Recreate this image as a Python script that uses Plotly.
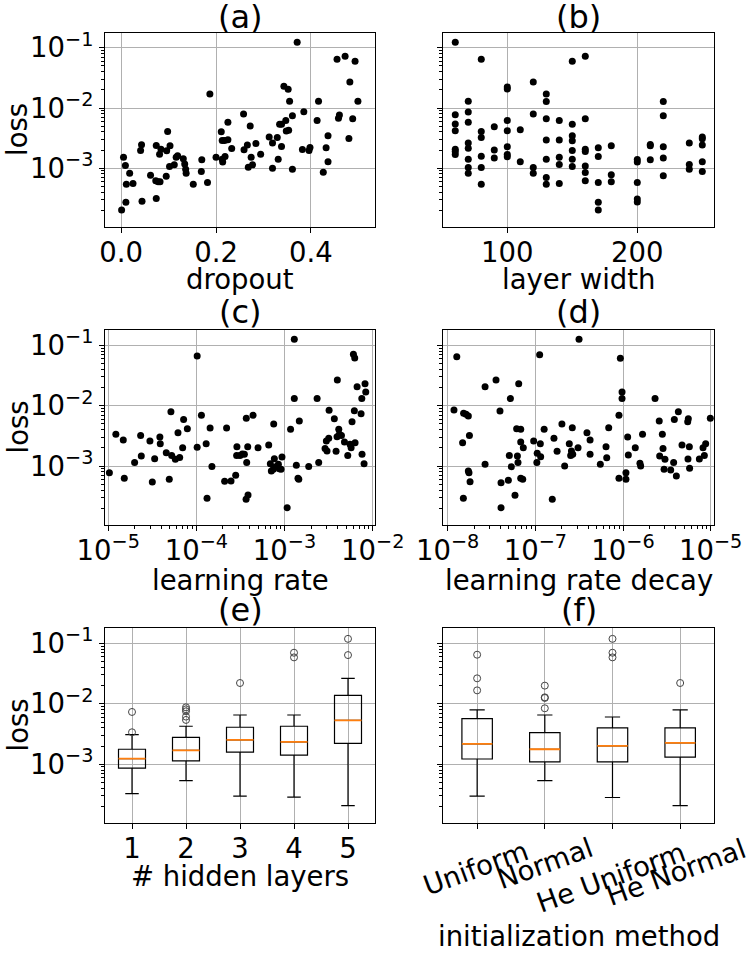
import plotly.graph_objects as go

# ---------------- data ----------------
# (a) dropout vs loss
dropout = [0.371, 0.187, 0.001, 0.005, 0.009, 0.018, 0.011, 0.025, 0.010, 0.041,
           0.043, 0.044, 0.062, 0.074, 0.081, 0.084, 0.073, 0.078, 0.082, 0.074,
           0.095, 0.096, 0.098, 0.103, 0.102, 0.112, 0.116, 0.119, 0.131, 0.134,
           0.136, 0.137, 0.152, 0.170, 0.169, 0.182, 0.200, 0.211, 0.213, 0.218,
           0.225, 0.225, 0.233, 0.213, 0.214, 0.219, 0.258, 0.259, 0.266, 0.272,
           0.274, 0.277, 0.268, 0.284, 0.294, 0.312, 0.319, 0.329, 0.319, 0.331,
           0.338, 0.334, 0.338, 0.347, 0.343, 0.352, 0.355, 0.348, 0.353, 0.361,
           0.361, 0.385, 0.382, 0.398, 0.396, 0.416, 0.413, 0.426, 0.432, 0.436,
           0.436, 0.455, 0.472, 0.493, 0.482, 0.499, 0.458, 0.460, 0.488, 0.480]
loss_dropout = [0.124, 0.0171, 0.000202, 0.00152, 0.00111, 0.000826, 0.000541, 0.000555, 0.000271, 0.00197,
                0.00245, 0.000282, 0.000764, 0.00239, 0.00171, 0.00207, 0.000615, 0.000592, 0.000592, 0.000312,
                0.000736, 0.00195, 0.00408, 0.00236, 0.00107, 0.00114, 0.00152, 0.00161, 0.00143, 0.00117,
                0.000962, 0.000826, 0.000541, 0.00138, 0.000879, 0.000577, 0.00152, 0.00404, 0.00289, 0.00289,
                0.00577, 0.00296, 0.00213, 0.00141, 0.00126, 0.00156, 0.00794, 0.00202, 0.00242, 0.00501,
                0.00152, 0.00114, 0.00104, 0.00258, 0.00171, 0.00329, 0.00261, 0.00324, 0.00100, 0.00141,
                0.00230, 0.00535, 0.00535, 0.00622, 0.0230, 0.0205, 0.0129, 0.00414, 0.00425, 0.00745,
                0.000962, 0.00869, 0.00205, 0.00221, 0.00197, 0.0129, 0.00622, 0.000857, 0.00218, 0.00346,
                0.00128, 0.0647, 0.0726, 0.0600, 0.0271, 0.0129, 0.00673, 0.00764, 0.00664, 0.00312]

# (b) layer width vs loss
layer_width = [60] * 7 + [70] * 8 + [80] * 6 + [90] * 3 + [100] * 7 + [110] * 2 + [120] * 4 + \
              [130] * 7 + [140] * 5 + [150] * 7 + [160] * 7 + [170] * 5 + [180] * 3 + [200] * 5 + \
              [210] * 3 + [220] * 5 + [240] * 3 + [250] * 5
loss_width = [0.124, 0.00774, 0.00541, 0.00419, 0.00207, 0.0019, 0.00169,
              0.0129, 0.00857, 0.00577, 0.00261, 0.00215, 0.00141, 0.00103, 0.000826,
              0.0647, 0.00408, 0.00324, 0.00158, 0.00103, 0.000541,
              0.00489, 0.0020, 0.00147,
              0.0224, 0.0207, 0.00622, 0.00419, 0.00227, 0.00169, 0.00155,
              0.00436, 0.00128,
              0.0271, 0.00794, 0.00103, 0.000826,
              0.0171, 0.0128, 0.00664, 0.00293, 0.00141, 0.000698, 0.000541,
              0.00622, 0.00293, 0.00152, 0.00115, 0.000555,
              0.0600, 0.00535, 0.00346, 0.00286, 0.00197, 0.00141, 0.00107,
              0.0726, 0.00664, 0.00207, 0.0019, 0.00109, 0.000847, 0.000615,
              0.00218, 0.00156, 0.000577, 0.000271, 0.000202,
              0.00236, 0.000774, 0.000592,
              0.00139, 0.00126, 0.000577, 0.000308, 0.000275,
              0.00248, 0.00236, 0.00138,
              0.0128, 0.00745, 0.00227, 0.00147, 0.000745,
              0.00261, 0.00115, 0.000962,
              0.00329, 0.00308, 0.00242, 0.00128, 0.000879]

# (c) learning rate vs loss
learning_rate = [1.03e-5, 1.22e-5, 1.48e-5, 1.52e-5, 1.99e-5, 2.33e-5, 2.37e-5, 2.97e-5, 3.16e-5, 3.36e-5,
                 3.85e-5, 3.89e-5, 4.55e-5, 4.92e-5, 5.14e-5, 5.24e-5, 5.77e-5, 6.18e-5, 6.46e-5, 6.98e-5,
                 7.16e-5, 7.89e-5, 1.02e-4, 1.02e-4, 1.14e-4, 1.29e-4, 1.32e-4, 1.43e-4, 1.50e-4, 2.09e-4,
                 2.20e-4, 2.47e-4, 2.79e-4, 2.88e-4, 2.86e-4, 3.12e-4, 3.32e-4, 3.50e-4, 3.68e-4, 3.72e-4,
                 3.82e-4, 3.66e-4, 3.85e-4, 4.39e-4, 5.00e-4, 6.61e-4, 7.53e-4, 6.90e-4, 7.08e-4, 7.66e-4,
                 7.46e-4, 7.93e-4, 8.51e-4, 8.73e-4, 9.35e-4, 9.12e-4, 1.07e-3, 1.17e-3, 1.29e-3, 1.29e-3,
                 1.36e-3, 1.42e-3, 1.45e-3, 1.47e-3, 1.88e-3, 2.34e-3, 2.44e-3, 2.88e-3, 2.98e-3, 3.03e-3,
                 3.17e-3, 3.20e-3, 3.67e-3, 3.84e-3, 3.94e-3, 3.97e-3, 4.12e-3, 4.19e-3, 4.42e-3, 4.78e-3,
                 5.21e-3, 5.53e-3, 5.69e-3, 5.83e-3, 6.04e-3, 6.25e-3, 6.19e-3, 6.31e-3, 6.65e-3, 7.38e-3,
                 7.52e-3, 7.57e-3, 7.98e-3, 8.18e-3, 8.34e-3]
loss_lr = [7.76e-4, 3.35e-3, 2.70e-3, 6.25e-4, 1.14e-3, 3.22e-3, 1.47e-3, 2.59e-3, 5.43e-4, 1.32e-3,
           3.03e-3, 2.34e-3, 1.66e-3, 6.01e-4, 7.96e-3, 1.50e-3, 1.29e-3, 3.56e-3, 1.39e-3, 2.01e-3,
           5.93e-3, 4.16e-3, 6.65e-2, 2.04e-3, 6.92e-3, 2.34e-3, 2.91e-4, 4.27e-3, 9.86e-4, 5.57e-4,
           4.27e-3, 5.64e-4, 7.00e-4, 2.09e-3, 1.50e-3, 1.50e-3, 1.58e-3, 1.56e-3, 6.17e-3, 1.14e-3,
           2.09e-3, 2.81e-4, 3.30e-4, 6.92e-3, 2.01e-3, 2.23e-3, 4.97e-3, 1.09e-3, 8.26e-4, 1.32e-3,
           8.81e-4, 9.75e-4, 1.07e-3, 9.04e-4, 1.41e-3, 8.81e-4, 2.04e-4, 4.06e-3, 1.26e-1, 1.31e-2,
           1.03e-3, 6.25e-4, 6.01e-4, 5.57e-3, 9.86e-4, 1.31e-2, 1.14e-3, 1.96e-3, 2.59e-3, 1.77e-3,
           2.88e-3, 8.38e-3, 6.10e-3, 1.75e-3, 3.06e-3, 2.66e-2, 4.06e-3, 3.35e-3, 3.22e-3, 2.50e-3,
           1.50e-3, 2.29e-3, 2.01e-3, 5.43e-3, 7.10e-2, 6.17e-2, 8.26e-3, 2.44e-3, 2.07e-2, 7.36e-3,
           1.31e-2, 1.56e-3, 1.09e-3, 2.32e-2, 1.69e-2]

# (d) learning rate decay vs loss
lr_decay = [1.18e-8, 1.27e-8, 1.48e-8, 1.52e-8, 1.51e-8, 1.62e-8, 1.72e-8, 1.77e-8, 1.72e-8, 1.75e-8,
            1.80e-8, 2.67e-8, 2.67e-8, 3.56e-8, 3.95e-8, 4.06e-8, 4.06e-8, 4.92e-8, 5.05e-8, 5.19e-8,
            5.32e-8, 5.86e-8, 6.12e-8, 6.24e-8, 6.34e-8, 6.46e-8, 6.81e-8, 6.81e-8, 6.81e-8, 7.18e-8,
            7.29e-8, 9.57e-8, 1.04e-7, 1.05e-7, 1.12e-7, 1.14e-7, 1.15e-7, 1.26e-7, 1.56e-7, 1.63e-7,
            1.77e-7, 2.01e-7, 2.16e-7, 2.44e-7, 2.53e-7, 2.58e-7, 2.64e-7, 2.67e-7, 3.07e-7, 3.15e-7,
            3.88e-7, 4.21e-7, 4.21e-7, 5.51e-7, 6.40e-7, 6.52e-7, 6.87e-7, 8.99e-7, 8.99e-7, 9.33e-7,
            9.75e-7, 9.75e-7, 1.08e-6, 1.08e-6, 1.13e-6, 1.15e-6, 1.38e-6, 1.56e-6, 1.59e-6, 1.67e-6,
            2.32e-6, 2.59e-6, 2.62e-6, 2.81e-6, 2.86e-6, 3.01e-6, 2.94e-6, 3.50e-6, 3.78e-6, 3.85e-6,
            4.06e-6, 4.28e-6, 4.71e-6, 5.47e-6, 5.56e-6, 5.71e-6, 5.51e-6, 5.75e-6, 7.43e-6, 8.18e-6,
            8.47e-6, 8.77e-6, 9.91e-6]
loss_decay = [8.47e-3, 6.49e-2, 2.44e-3, 7.46e-3, 2.91e-4, 7.18e-3, 6.75e-3, 3.22e-3, 8.26e-4, 7.76e-4,
              5.50e-4, 2.07e-2, 1.07e-3, 2.66e-2, 8.17e-3, 5.30e-4, 2.04e-4, 5.78e-4, 1.50e-3, 1.31e-2,
              9.75e-4, 3.27e-4, 4.16e-3, 1.47e-3, 1.14e-3, 2.32e-2, 4.06e-3, 2.50e-3, 6.25e-4, 6.01e-4,
              2.01e-3, 2.59e-3, 1.14e-3, 1.62e-3, 7.00e-2, 2.34e-3, 1.43e-3, 4.06e-3, 2.81e-4, 2.88e-3,
              1.75e-3, 4.97e-3, 1.00e-3, 2.34e-3, 1.50e-3, 1.77e-3, 4.32e-3, 1.56e-3, 2.01e-3, 1.26e-1,
              3.56e-3, 2.70e-3, 1.56e-3, 1.07e-3, 2.09e-3, 1.37e-3, 4.32e-3, 6.25e-4, 6.92e-3, 6.10e-2,
              1.69e-2, 1.31e-2, 7.76e-4, 6.01e-4, 3.03e-3, 1.52e-3, 2.01e-3, 1.11e-3, 1.00e-3, 3.35e-3,
              1.31e-2, 5.57e-3, 1.47e-3, 3.35e-3, 1.96e-3, 1.29e-3, 8.81e-4, 8.59e-4, 1.14e-3, 5.93e-3,
              6.82e-4, 7.96e-3, 2.23e-3, 5.43e-3, 6.10e-3, 2.09e-3, 1.31e-3, 9.14e-4, 1.31e-3, 2.01e-3,
              1.50e-3, 2.34e-3, 6.17e-3]

# (e) box statistics by number of hidden layers
hidden_layers = [1, 2, 3, 4, 5]
hl_lower = [3.27e-4, 5.37e-4, 2.96e-4, 2.85e-4, 2.07e-4]
hl_q1 = [8.59e-4, 1.14e-3, 1.58e-3, 1.41e-3, 2.22e-3]
hl_median = [1.24e-3, 1.70e-3, 2.52e-3, 2.34e-3, 5.33e-3]
hl_q3 = [1.77e-3, 2.79e-3, 4.09e-3, 4.25e-3, 1.38e-2]
hl_upper = [3.09e-3, 4.25e-3, 6.53e-3, 6.53e-3, 2.64e-2]
hl_outliers = [[7.33e-3, 3.38e-3], [8.75e-3, 8.11e-3, 7.52e-3, 6.14e-3, 5.41e-3],
               [2.21e-2], [7.01e-2, 5.87e-2], [1.19e-1, 6.41e-2]]

# (f) box statistics by initialization method
init_methods = ["Uniform", "Normal", "He Uniform", "He Normal"]
im_lower = [2.96e-4, 5.37e-4, 2.81e-4, 2.07e-4]
im_q1 = [1.22e-3, 1.09e-3, 1.09e-3, 1.31e-3]
im_median = [2.17e-3, 1.77e-3, 2.01e-3, 2.25e-3]
im_q3 = [5.69e-3, 3.33e-3, 3.99e-3, 3.99e-3]
im_upper = [7.91e-3, 6.53e-3, 6.05e-3, 7.91e-3]
im_outliers = [[6.50e-2, 2.64e-2, 1.67e-2], [2.0e-2, 1.28e-2, 1.25e-2, 8.43e-3],
               [1.19e-1, 7.01e-2, 5.87e-2], [2.21e-2]]

# ---------------- figure ----------------
W, H = 750, 954
FONT = "DejaVu Sans"
FS = 27.5
FT = 32


def px(x):
    return x / W


def py(y):
    return 1 - y / H


fig = go.Figure()

MK = dict(color="black", size=7)
fig.add_trace(go.Scatter(x=dropout, y=loss_dropout, mode="markers", marker=MK, xaxis="x", yaxis="y"))
fig.add_trace(go.Scatter(x=layer_width, y=loss_width, mode="markers", marker=MK, xaxis="x2", yaxis="y2"))
fig.add_trace(go.Scatter(x=learning_rate, y=loss_lr, mode="markers", marker=MK, xaxis="x3", yaxis="y3"))
fig.add_trace(go.Scatter(x=lr_decay, y=loss_decay, mode="markers", marker=MK, xaxis="x4", yaxis="y4"))


def add_boxes(positions, lo, q1, med, q3, hi, outl, width, xa, ya):
    mx, my, ox, oy = [], [], [], []
    for i, p in enumerate(positions):
        fig.add_trace(go.Box(x=[p], lowerfence=[lo[i]], q1=[q1[i]], median=[med[i]], q3=[q3[i]],
                             upperfence=[hi[i]], width=width, whiskerwidth=0.5,
                             line=dict(color="black", width=1.2), fillcolor="rgba(0,0,0,0)",
                             boxpoints=False, xaxis=xa, yaxis=ya))
        mx += [p - width / 2, p + width / 2, None]
        my += [med[i], med[i], None]
        for v in outl[i]:
            ox.append(p)
            oy.append(v)
    fig.add_trace(go.Scatter(x=mx, y=my, mode="lines", line=dict(color="#ff7f0e", width=1.8),
                             xaxis=xa, yaxis=ya))
    fig.add_trace(go.Scatter(x=ox, y=oy, mode="markers",
                             marker=dict(symbol="circle-open", size=7, color="#444444", line=dict(width=1)),
                             xaxis=xa, yaxis=ya))


add_boxes(hidden_layers, hl_lower, hl_q1, hl_median, hl_q3, hl_upper, hl_outliers, 0.5, "x5", "y5")
im_pos = [1, 2, 3, 4]
add_boxes(im_pos, im_lower, im_q1, im_median, im_q3, im_upper, im_outliers, 0.45, "x6", "y6")

# axes
colx = [[105 / W, 375 / W], [443.3 / W, 714 / W]]
rowy = [[py(227), py(32.5)], [py(525), py(330)], [py(823.3), py(628)]]
YR = [-3.978, -0.745]

ymajor = [1e-3, 1e-2, 1e-1]
ytext = ["10<sup>−3</sup>", "10<sup>−2</sup>", "10<sup>−1</sup>"]
yminor = [k * 10.0 ** n for n in (-4, -3, -2, -1) for k in range(2, 10)]

base = dict(showline=True, mirror=True, linecolor="black", linewidth=1,
            ticks="outside", ticklen=5, tickwidth=1, tickcolor="black",
            showgrid=True, gridcolor="#b0b0b0", gridwidth=0.8, zeroline=False,
            automargin=False,
            tickfont=dict(family=FONT, size=FS, color="black"))
xbase = dict(base, ticklabelstandoff=-4)


def yaxis(row, col, anchor):
    d = dict(base, type="log", range=YR, domain=rowy[row], anchor=anchor,
             tickmode="array", tickvals=ymajor, ticktext=ytext,
             showticklabels=(col == 0),
             minor=dict(tickmode="array", tickvals=yminor, ticks="outside", ticklen=3,
                        tickwidth=0.7, tickcolor="black", showgrid=False))
    return d


def logminor(lo, hi):
    return [k * 10.0 ** n for n in range(lo, hi) for k in range(2, 10)]


layout = dict(
    template="none",
    width=W, height=H, margin=dict(l=0, r=0, t=0, b=0, pad=0), autosize=False,
    paper_bgcolor="white", plot_bgcolor="white", showlegend=False,
    font=dict(family=FONT, size=FS, color="black"),
    xaxis=dict(xbase, domain=colx[0], anchor="y", range=[-0.034, 0.535],
               tickmode="array", tickvals=[0, 0.2, 0.4], ticktext=["0.0", "0.2", "0.4"]),
    yaxis=yaxis(0, 0, "x"),
    xaxis2=dict(xbase, domain=colx[1], anchor="y2", range=[50.8, 259],
                tickmode="array", tickvals=[100, 200], ticktext=["100", "200"]),
    yaxis2=yaxis(0, 1, "x2"),
    xaxis3=dict(xbase, domain=colx[0], anchor="y3", type="log", range=[-5.037, -1.974],
                tickmode="array", tickvals=[1e-5, 1e-4, 1e-3, 1e-2],
                ticktext=["10<sup>−5</sup>", "10<sup>−4</sup>", "10<sup>−3</sup>", "10<sup>−2</sup>"],
                minor=dict(tickmode="array", tickvals=logminor(-5, -2), ticks="outside", ticklen=3,
                           tickwidth=0.7, tickcolor="black", showgrid=False)),
    yaxis3=yaxis(1, 0, "x3"),
    xaxis4=dict(xbase, domain=colx[1], anchor="y4", type="log", range=[-8.05, -4.962],
                tickmode="array", tickvals=[1e-8, 1e-7, 1e-6, 1e-5],
                ticktext=["10<sup>−8</sup>", "10<sup>−7</sup>", "10<sup>−6</sup>", "10<sup>−5</sup>"],
                minor=dict(tickmode="array", tickvals=logminor(-8, -5), ticks="outside", ticklen=3,
                           tickwidth=0.7, tickcolor="black", showgrid=False)),
    yaxis4=yaxis(1, 1, "x4"),
    xaxis5=dict(xbase, domain=colx[0], anchor="y5", range=[0.5, 5.5],
                tickmode="array", tickvals=hidden_layers, ticktext=[str(v) for v in hidden_layers]),
    yaxis5=yaxis(2, 0, "x5"),
    xaxis6=dict(xbase, domain=colx[1], anchor="y6", range=[0.5, 4.5],
                tickmode="array", tickvals=im_pos, showticklabels=False),
    yaxis6=yaxis(2, 1, "x6"),
)
fig.update_layout(**layout)

ann = []


def text(t, x, y, angle=0, size=FS):
    ann.append(dict(text=t, x=px(x), y=py(y), xref="paper", yref="paper", showarrow=False,
                    xanchor="center", yanchor="middle", textangle=angle,
                    font=dict(family=FONT, size=size, color="black")))


cx = [240, 578.6]
for lbl, c, y in [("(a)", 0, 17), ("(b)", 1, 17), ("(c)", 0, 312), ("(d)", 1, 312),
                  ("(e)", 0, 610), ("(f)", 1, 610)]:
    text(lbl, cx[c], y, size=FT)
text("dropout", cx[0], 279)
text("layer width", cx[1], 279)
text("learning rate", cx[0], 580)
text("learning rate decay", cx[1], 580)
text("# hidden layers", cx[0], 876)
text("initialization method", cx[1], 936)
for yc in [130, 427.5, 725.5]:
    text("loss", 17, yc, angle=-90)
for name, (x, y) in zip(init_methods, [(475, 868), (545, 863), (611, 877), (676, 872)]):
    text(name, x, y, angle=-20)

fig.update_layout(annotations=ann)
fig.write_html("out.html", config={"displayModeBar": False},
               post_script="document.body.style.margin='0';document.body.style.padding='0';")
